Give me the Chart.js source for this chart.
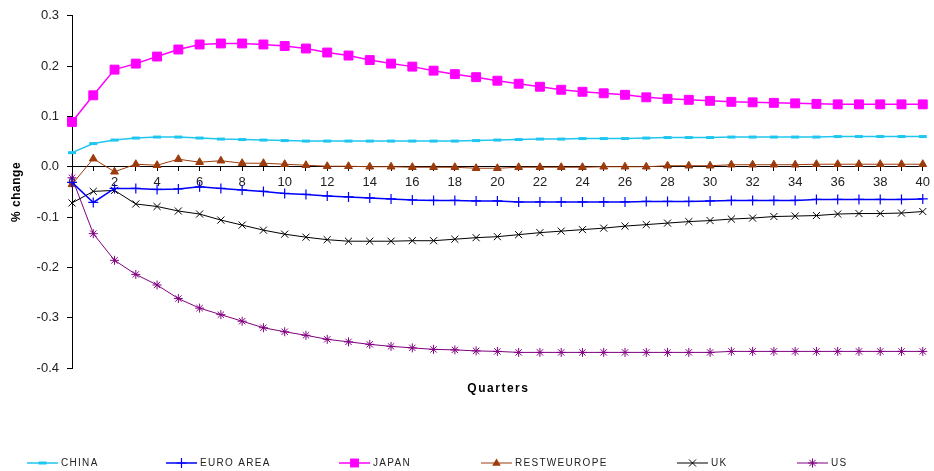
<!DOCTYPE html>
<html><head><meta charset="utf-8">
<script src="https://cdn.jsdelivr.net/npm/chart.js@4/dist/chart.umd.min.js"></script>
<style>html,body{margin:0;padding:0;background:#fff;}</style>
</head><body>
<canvas id="c" width="934" height="471"></canvas>
<script>
const quarters = [0,1,2,3,4,5,6,7,8,9,10,11,12,13,14,15,16,17,18,19,20,21,22,23,24,25,26,27,28,29,30,31,32,33,34,35,36,37,38,39,40];
const yTicks = [-0.4,-0.3,-0.2,-0.1,0.0,0.1,0.2,0.3];
const china = [0.028,0.046,0.053,0.057,0.059,0.059,0.057,0.055,0.054,0.053,0.052,0.051,0.051,0.051,0.051,0.051,0.051,0.051,0.051,0.052,0.053,0.054,0.055,0.055,0.056,0.056,0.056,0.057,0.058,0.058,0.058,0.059,0.059,0.059,0.059,0.059,0.060,0.060,0.060,0.060,0.060];
const euroArea = [-0.031,-0.071,-0.043,-0.043,-0.045,-0.044,-0.040,-0.043,-0.046,-0.049,-0.053,-0.055,-0.058,-0.060,-0.062,-0.064,-0.066,-0.067,-0.067,-0.068,-0.068,-0.070,-0.070,-0.070,-0.070,-0.070,-0.070,-0.069,-0.069,-0.069,-0.068,-0.067,-0.067,-0.067,-0.067,-0.065,-0.065,-0.065,-0.065,-0.065,-0.064];
const japan = [0.089,0.142,0.193,0.205,0.219,0.233,0.243,0.245,0.245,0.243,0.240,0.235,0.227,0.221,0.212,0.205,0.199,0.191,0.184,0.178,0.171,0.165,0.159,0.153,0.149,0.146,0.143,0.138,0.135,0.133,0.131,0.129,0.128,0.127,0.126,0.125,0.124,0.124,0.124,0.124,0.124];
const restWEurope = [-0.035,0.016,-0.010,0.005,0.003,0.015,0.009,0.012,0.007,0.007,0.005,0.003,0.001,0.001,0.000,0.000,-0.001,-0.001,-0.001,-0.003,-0.003,-0.001,-0.001,-0.001,-0.001,0.000,0.000,0.000,0.002,0.002,0.002,0.004,0.004,0.004,0.004,0.005,0.005,0.005,0.005,0.005,0.005];
const uk = [-0.072,-0.049,-0.047,-0.074,-0.079,-0.088,-0.094,-0.106,-0.116,-0.126,-0.134,-0.140,-0.145,-0.148,-0.148,-0.148,-0.147,-0.147,-0.144,-0.141,-0.139,-0.135,-0.131,-0.128,-0.125,-0.122,-0.118,-0.115,-0.112,-0.109,-0.107,-0.104,-0.102,-0.099,-0.098,-0.097,-0.094,-0.093,-0.093,-0.092,-0.089];
const us = [-0.022,-0.133,-0.186,-0.214,-0.235,-0.262,-0.281,-0.294,-0.307,-0.320,-0.328,-0.335,-0.343,-0.348,-0.353,-0.357,-0.360,-0.363,-0.364,-0.366,-0.367,-0.369,-0.369,-0.369,-0.369,-0.369,-0.369,-0.369,-0.369,-0.369,-0.369,-0.367,-0.367,-0.367,-0.367,-0.367,-0.367,-0.367,-0.367,-0.367,-0.367];
const seriesNames = ['CHINA','EURO AREA','JAPAN','RESTWEUROPE','UK','US'];

const FONT = "'Liberation Sans', Arial, sans-serif";
function pts(arr){ return arr.map((v,i)=>({x: quarters[i], y: v})); }

const styles = [
  {color:'#1FC6F0', pointStyle:'line', radius:4, pbw:3, bw:1.5, legendX:27},
  {color:'#0000FF', pointStyle:'cross', radius:5, pbw:1.2, bw:1.5, legendX:166},
  {color:'#FF00FF', pointStyle:'rect', radius:6.3, pbw:1, bw:1.5, legendX:339},
  {color:'#9C3B0B', pointStyle:'triangle', radius:4.5, pbw:1, bw:1, legendX:481},
  {color:'#000000', pointStyle:'crossRot', radius:5, pbw:1, bw:1, legendX:677},
  {color:'#800080', pointStyle:'star', radius:4.5, pbw:1, bw:1, legendX:797}
];
const allData = [china, euroArea, japan, restWEurope, uk, us];

const datasets = allData.map((d,i)=>({
  label: seriesNames[i],
  data: pts(d),
  borderColor: styles[i].color,
  backgroundColor: styles[i].color,
  borderWidth: styles[i].bw,
  pointStyle: styles[i].pointStyle,
  pointRadius: styles[i].radius,
  pointBorderWidth: styles[i].pbw,
  pointBorderColor: styles[i].color,
  pointBackgroundColor: styles[i].color,
  tension: 0,
  clip: false
}));

function drawMarker(ctx, style, x, y, r, color, pbw){
  ctx.save();
  ctx.strokeStyle = color; ctx.fillStyle = color; ctx.lineWidth = pbw;
  ctx.beginPath();
  if (style==='rect'){ const s=Math.SQRT1_2*r; ctx.rect(x-s,y-s,2*s,2*s); ctx.fill(); }
  else if (style==='triangle'){ ctx.moveTo(x, y-r); ctx.lineTo(x+r*0.866*1.1, y+r*0.6); ctx.lineTo(x-r*0.866*1.1, y+r*0.6); ctx.closePath(); ctx.fill(); }
  else if (style==='cross'){ ctx.moveTo(x,y-r); ctx.lineTo(x,y+r); ctx.moveTo(x-r,y); ctx.lineTo(x+r,y); ctx.stroke(); }
  else if (style==='crossRot'){ const o=r*0.707; ctx.moveTo(x-o,y-o); ctx.lineTo(x+o,y+o); ctx.moveTo(x-o,y+o); ctx.lineTo(x+o,y-o); ctx.stroke(); }
  else if (style==='star'){ const o=r*0.707; ctx.moveTo(x,y-r); ctx.lineTo(x,y+r); ctx.moveTo(x-r,y); ctx.lineTo(x+r,y); ctx.moveTo(x-o,y-o); ctx.lineTo(x+o,y+o); ctx.moveTo(x-o,y+o); ctx.lineTo(x+o,y-o); ctx.stroke(); }
  else if (style==='line'){ ctx.moveTo(x-r,y); ctx.lineTo(x+r,y); ctx.stroke(); }
  ctx.restore();
}

const extras = {
  id: 'extras',
  afterDraw(chart){
    const ctx = chart.ctx;
    const ca = chart.chartArea;
    ctx.save();
    // x title
    ctx.fillStyle = '#000';
    ctx.font = 'bold 12px ' + FONT;
    ctx.letterSpacing = '1.5px';
    ctx.textAlign = 'center'; ctx.textBaseline = 'middle';
    ctx.fillText('Quarters', (ca.left+ca.right)/2 + 1, 389);
    // y title
    ctx.letterSpacing = '0.5px';
    ctx.translate(17, (ca.top+ca.bottom)/2);
    ctx.rotate(-Math.PI/2);
    ctx.fillText('% change', 0, 0);
    ctx.restore();
    // legend
    ctx.save();
    const ly = 463;
    styles.forEach((s,i)=>{
      const x0 = s.legendX, x1 = s.legendX + 31;
      ctx.strokeStyle = s.color; ctx.lineWidth = s.bw;
      ctx.beginPath(); ctx.moveTo(x0, ly); ctx.lineTo(x1, ly); ctx.stroke();
      drawMarker(ctx, s.pointStyle, (x0+x1)/2, ly, s.radius, s.color, s.pbw);
      ctx.fillStyle = '#222';
      ctx.font = '10px ' + FONT;
      ctx.letterSpacing = '1.3px';
      ctx.textAlign = 'left'; ctx.textBaseline = 'middle';
      ctx.fillText(seriesNames[i], x1 + 3, ly);
    });
    ctx.restore();
  }
};

new Chart(document.getElementById('c'), {
  type: 'line',
  data: { datasets },
  options: {
    responsive: false,
    animation: false,
    devicePixelRatio: 1,
    layout: { padding: { top: 13, right: 9, bottom: 103, left: 0 } },
    plugins: { legend: { display: false }, tooltip: { enabled: false } },
    scales: {
      x: {
        type: 'linear',
        min: 0, max: 40,
        position: { y: 0 },
        afterBuildTicks: (s) => { s.ticks = quarters.map(v => ({ value: v })); },
        ticks: {
          autoSkip: false,
          maxRotation: 0,
          color: '#222',
          font: { family: FONT, size: 13 },
          padding: 4,
          callback: (v) => (v % 2 === 0 ? String(v) : '')
        },
        grid: { drawOnChartArea: false, drawTicks: true, tickLength: 4, color: '#000', lineWidth: 1 },
        border: { display: true, color: '#000', width: 1 }
      },
      y: {
        type: 'linear',
        min: -0.4, max: 0.3,
        afterBuildTicks: (s) => { s.ticks = yTicks.map(v => ({ value: v })); },
        afterFit: (s) => { s.width = 72; },
        ticks: {
          color: '#222',
          font: { family: FONT, size: 13 },
          padding: 8,
          callback: (v) => Number(v).toFixed(1)
        },
        grid: { drawOnChartArea: false, drawTicks: true, tickLength: 5, color: '#000', lineWidth: 1 },
        border: { display: true, color: '#000', width: 1 }
      }
    }
  },
  plugins: [extras]
});
</script>
</body></html>
